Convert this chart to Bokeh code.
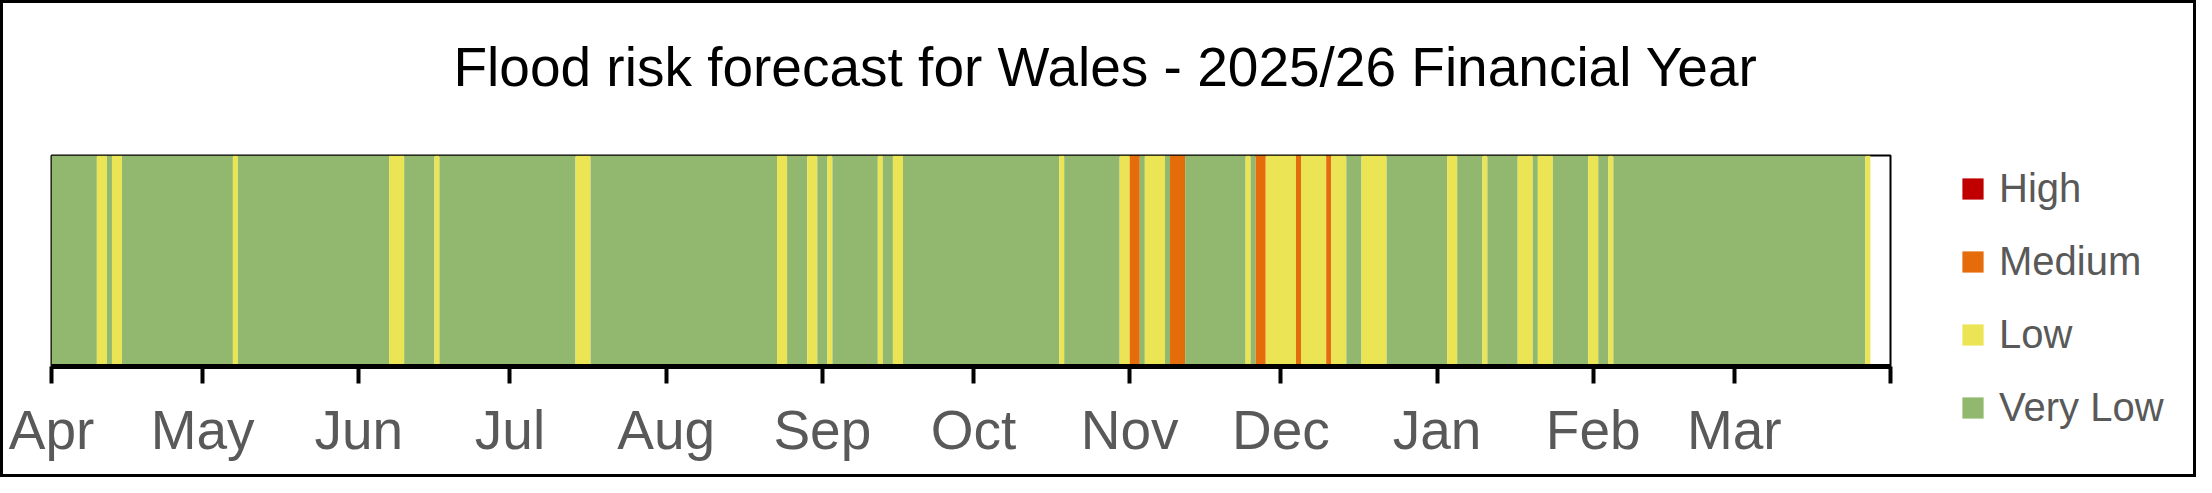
from datetime import datetime, timedelta

from bokeh.embed import file_html
from bokeh.layouts import row
from bokeh.models import (ColumnDataSource, CustomJSTickFormatter, FixedTicker,
                          Legend, LegendItem, Range1d, Title)
from bokeh.plotting import figure
from bokeh.resources import INLINE

# ---------------- data ----------------
title_text = "Flood risk forecast for Wales - 2025/26 Financial Year"

level_names = ["High", "Medium", "Low", "Very Low"]
level_codes = ["H", "M", "L", "V"]
level_colors = ["#C00000", "#E46C0A", "#EBE455", "#92B76E"]

month_starts = ["2025-04-01", "2025-05-01", "2025-06-01", "2025-07-01",
                "2025-08-01", "2025-09-01", "2025-10-01", "2025-11-01",
                "2025-12-01", "2026-01-01", "2026-02-01", "2026-03-01"]
month_labels = ["Apr", "May", "Jun", "Jul", "Aug", "Sep",
                "Oct", "Nov", "Dec", "Jan", "Feb", "Mar"]
year_end = "2026-04-01"

# daily risk level per month (one letter per day, spaces only for readability)
risk_apr = "VVVVV VVVVL LVLLV VVVVV VVVVV VVVVV"
risk_may = "VVVVV VLVVV VVVVV VVVVV VVVVV VVVVV V"
risk_jun = "VVVVV VLLLV VVVVV LVVVV VVVVV VVVVV"
risk_jul = "VVVVV VVVVV VVVLL LVVVV VVVVV VVVVV V"
risk_aug = "VVVVV VVVVV VVVVV VVVVV VVLLV VVVLL V"
risk_sep = "VLVVV VVVVV VLVVL LVVVV VVVVV VVVVV"
risk_oct = "VVVVV VVVVV VVVVV VVLVV VVVVV VVVVL L"
risk_nov = "MMVLL LLVMM MVVVV VVVVV VVVLV MMLLL"
risk_dec = "LLLML LLLLM LLLVV VLLLL LVVVV VVVVV V"
risk_jan = "VVLLV VVVVL VVVVV VLLLV LLLVV VVVVV L"
risk_feb = "LVVLV VVVVV VVVVV VVVVV VVVVV VVV"
risk_mar = "VVVVV VVVVV VVVVV VVVVV VVVVV VL"
monthly_risk = [risk_apr, risk_may, risk_jun, risk_jul, risk_aug, risk_sep,
                risk_oct, risk_nov, risk_dec, risk_jan, risk_feb, risk_mar]

# ---------------- build runs ----------------
def to_dt(s):
    return datetime.strptime(s, "%Y-%m-%d")

days, codes = [], []
for start, txt in zip(month_starts, monthly_risk):
    d0 = to_dt(start)
    for i, c in enumerate(txt.replace(" ", "")):
        days.append(d0 + timedelta(days=i))
        codes.append(c)

color_of = dict(zip(level_codes, level_colors))
left, right, fill = [], [], []
i = 0
while i < len(days):
    j = i
    while j + 1 < len(days) and codes[j + 1] == codes[i]:
        j += 1
    left.append(days[i])
    right.append(days[j] + timedelta(days=1))
    fill.append(color_of[codes[i]])
    i = j + 1

src = ColumnDataSource(dict(left=left, right=right, bottom=[0] * len(left),
                            top=[1] * len(left), fill=fill))

# ---------------- main figure ----------------
H = 471
W_MAIN, W_LEG = 1900, 290
p = figure(width=W_MAIN, height=H, x_axis_type="datetime", y_axis_location=None,
           x_range=Range1d(to_dt(month_starts[0]), to_dt(year_end)),
           y_range=Range1d(0, 1), toolbar_location=None, output_backend="svg",
           min_border_left=48, min_border_right=W_MAIN - 48 - 1839,
           min_border_top=152, min_border_bottom=108)
p.background_fill_color = "white"
p.border_fill_color = "white"
p.outline_line_color = "black"
p.outline_line_width = 2
p.xgrid.visible = False
p.ygrid.visible = False

p.quad(left="left", right="right", bottom="bottom", top="top", source=src,
       fill_color="fill", line_color=None)

epoch = datetime(1970, 1, 1)
tick_ms = [(to_dt(s) - epoch).total_seconds() * 1000 for s in month_starts + [year_end]]
ax = p.xaxis[0]
ax.ticker = FixedTicker(ticks=tick_ms)
ax.formatter = CustomJSTickFormatter(args=dict(names=month_labels), code="""
    const d = new Date(tick);
    if (d.getUTCFullYear() == 2026 && d.getUTCMonth() == 3) return "";
    return names[(d.getUTCMonth() + 9) % 12];
""")
ax.axis_line_color = "black"
ax.axis_line_width = 5
ax.major_tick_line_color = "black"
ax.major_tick_line_width = 4
ax.major_tick_out = 17
ax.major_tick_in = 0
ax.minor_tick_out = 0
ax.minor_tick_in = 0
ax.major_label_text_font = "Liberation Sans"
ax.major_label_text_font_size = "55px"
ax.major_label_text_color = "#595959"
ax.major_label_standoff = 15

# spacer between title and plot area
p.add_layout(Title(text=" ", text_font_size="8px", standoff=47), "above")

p.title.text = title_text
p.title.text_font = "Liberation Sans"
p.title.text_font_size = "55px"
p.title.text_font_style = "normal"
p.title.text_color = "black"
p.title.align = "left"
p.title.offset = 402
p.title.standoff = 0

# ---------------- legend panel ----------------
lg = figure(width=W_LEG, height=H, x_range=Range1d(0, 1), y_range=Range1d(0, 1),
            x_axis_location=None, y_axis_location=None, toolbar_location=None,
            output_backend="svg", min_border=0)
if "frame_align" in lg.properties():
    lg.frame_align = False
lg.outline_line_color = None
lg.xgrid.visible = False
lg.ygrid.visible = False
lg.background_fill_color = "white"
lg.border_fill_color = "white"

items = []
for name, col in zip(level_names, level_colors):
    r = lg.scatter(x=[float("nan")], y=[float("nan")], marker="square",
                   fill_color=col, line_color=None)
    items.append(LegendItem(label=name, renderers=[r]))
legend = Legend(items=items, location=(43, 40), orientation="vertical",
                glyph_width=53, glyph_height=53, spacing=20, label_standoff=-8,
                padding=0, margin=0, border_line_color=None,
                background_fill_alpha=0, label_text_font="Liberation Sans",
                label_text_font_size="40px", label_text_color="#595959")
lg.add_layout(legend, "center")

layout = row(p, lg, spacing=0)
layout.styles = {"border": "3px solid black"}

open("out.html", "w").write(file_html(layout, INLINE))
